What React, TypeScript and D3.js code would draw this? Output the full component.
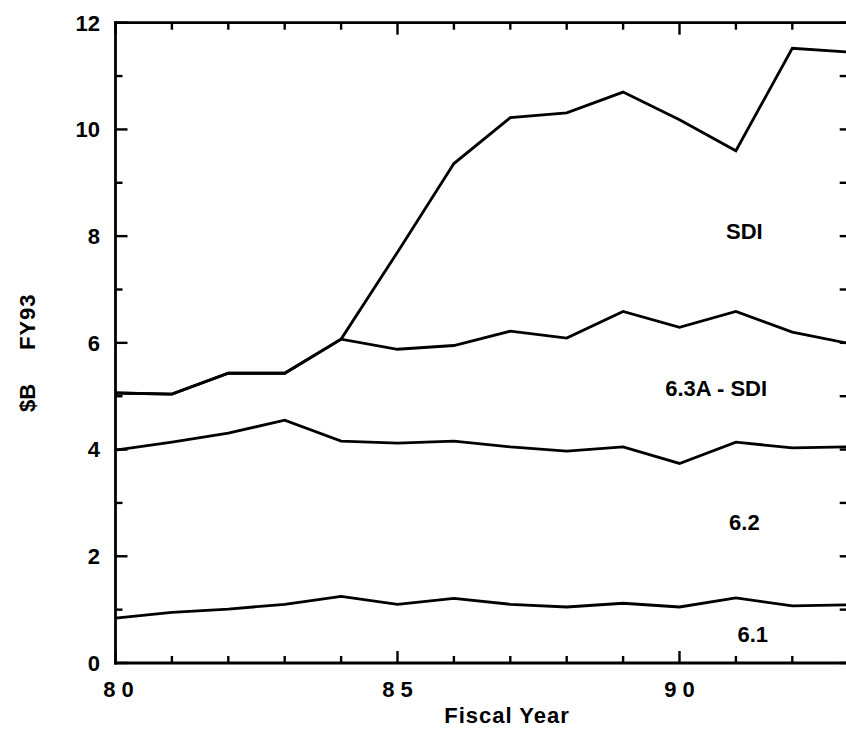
import React from "react";
import * as d3 from "d3";

const years = [80, 81, 82, 83, 84, 85, 86, 87, 88, 89, 90, 91, 92, 93];
const total63A = [5.06, 5.04, 5.43, 5.43, 6.07, 7.7, 9.36, 10.22, 10.31, 10.7, 10.18, 9.6, 11.52, 11.45];
const minusSDI = [5.06, 5.04, 5.43, 5.43, 6.07, 5.88, 5.95, 6.22, 6.09, 6.59, 6.29, 6.59, 6.2, 5.99];
const line62 = [3.99, 4.14, 4.31, 4.55, 4.16, 4.12, 4.16, 4.05, 3.97, 4.05, 3.74, 4.14, 4.03, 4.05];
const line61 = [0.84, 0.95, 1.01, 1.1, 1.25, 1.1, 1.21, 1.1, 1.05, 1.12, 1.05, 1.22, 1.07, 1.09];
const yTicks = [0, 2, 4, 6, 8, 10, 12];
const xLabelYears = [80, 85, 90];
const xLabelText = ["8 0", "8 5", "9 0"];
const seriesLabels = [
  { text: "SDI", year: 91.15, value: 7.95 },
  { text: "6.3A - SDI", year: 90.65, value: 5.0 },
  { text: "6.2", year: 91.15, value: 2.5 },
  { text: "6.1", year: 91.3, value: 0.4 },
];

const W = 846, H = 729;
const x = d3.scaleLinear().domain([80, 93]).range([115.5, 848.7]);
const y = d3.scaleLinear().domain([0, 12]).range([663, 22.7]);
const FONT = "'Liberation Sans', Arial, Helvetica, sans-serif";

export default function App() {
  const line = d3.line<[number, number]>().x(d => x(d[0])).y(d => y(d[1]));
  const mk = (vals: number[]) => line(years.map((yr, i) => [yr, vals[i]] as [number, number])) || "";
  const allInts = d3.range(0, 13);
  const sw = 2.8;
  return (
    <svg width={W} height={H} style={{ position: "absolute", left: 0, top: 0, background: "#fff" }}>
      <rect x={0} y={0} width={W} height={H} fill="#fff" />
      <g stroke="#000" strokeWidth={2.8} fill="none" strokeLinecap="square">
        <line x1={x(80)} y1={y(0)} x2={x(93)} y2={y(0)} />
        <line x1={x(80)} y1={y(12)} x2={x(93)} y2={y(12)} />
        <line x1={x(80)} y1={y(0)} x2={x(80)} y2={y(12)} />
        <line x1={x(93)} y1={y(0)} x2={x(93)} y2={y(12)} />
      </g>
      <g stroke="#000" strokeWidth={2.4}>
        {allInts.map(v => (
          <line key={"l" + v} x1={x(80)} x2={x(80) + (v % 2 === 0 ? 12 : 7)} y1={y(v)} y2={y(v)} />
        ))}
        {allInts.map(v => (
          <line key={"r" + v} x1={x(93)} x2={x(93) - 9} y1={y(v)} y2={y(v)} />
        ))}
        {years.map(yr => (
          <line key={"b" + yr} x1={x(yr)} x2={x(yr)} y1={y(0)} y2={y(0) - (yr % 5 === 0 ? 12 : 7)} />
        ))}
        {years.map(yr => (
          <line key={"t" + yr} x1={x(yr)} x2={x(yr)} y1={y(12)} y2={y(12) + (yr % 5 === 0 ? 12 : 7)} />
        ))}
      </g>
      <g fill="none" stroke="#000" strokeWidth={sw} strokeLinejoin="miter">
        <path d={mk(total63A)} />
        <path d={mk(minusSDI)} />
        <path d={mk(line62)} />
        <path d={mk(line61)} />
      </g>
      <g fontFamily={FONT} fontWeight="bold" fontSize={22} fill="#000">
        {yTicks.map(v => (
          <text key={"yl" + v} x={100} y={y(v)} dy="0.36em" textAnchor="end">{v}</text>
        ))}
        {xLabelYears.map((yr, i) => (
          <text key={"xl" + yr} x={x(yr) + (i === 0 ? 3 : 0)} y={697} textAnchor="middle" style={{ whiteSpace: "pre" }}>{xLabelText[i]}</text>
        ))}
        <text x={507} y={723} textAnchor="middle" letterSpacing={1}>Fiscal Year</text>
        <text transform="translate(35,412) rotate(-90)" textAnchor="start">$B</text>
        <text transform="translate(35,350) rotate(-90)" textAnchor="start" letterSpacing={1}>FY93</text>
        {seriesLabels.map(s => (
          <text key={s.text} x={x(s.year)} y={y(s.value)} textAnchor="middle">{s.text}</text>
        ))}
      </g>
    </svg>
  );
}
